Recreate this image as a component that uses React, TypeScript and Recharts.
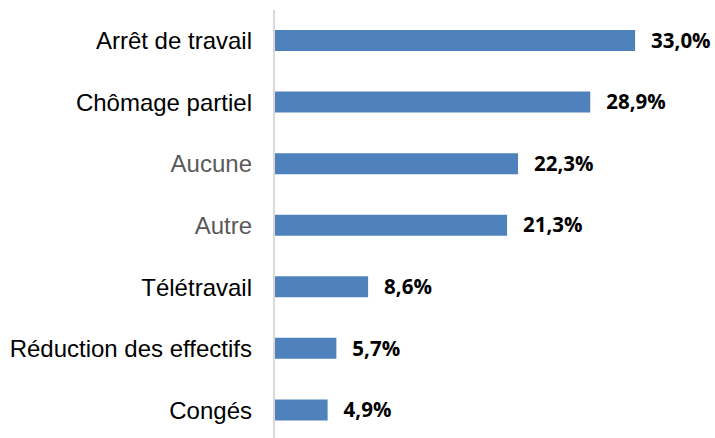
import { BarChart, Bar, XAxis, YAxis, LabelList } from 'recharts'

const categories = [
  'Arrêt de travail',
  'Chômage partiel',
  'Aucune',
  'Autre',
  'Télétravail',
  'Réduction des effectifs',
  'Congés',
]
const values = [33.0, 28.9, 22.3, 21.3, 8.6, 5.7, 4.9]
const mutedCategories = ['Aucune', 'Autre']

const data = categories.map((name, i) => ({ name, value: values[i] }))

const CategoryTick = (props: any) => {
  const { x, y, payload } = props
  const muted = mutedCategories.includes(payload.value)
  return (
    <text
      x={x}
      y={y}
      dy="0.355em"
      textAnchor="end"
      fontFamily="'Liberation Sans', Arial, sans-serif"
      fontSize={24}
      fill={muted ? '#595959' : '#000000'}
    >
      {payload.value}
    </text>
  )
}

export default function App() {
  return (
    <div style={{ position: 'absolute', left: 0, top: 0, background: '#fff' }}>
      <BarChart
        width={715}
        height={441}
        data={data}
        layout="vertical"
        margin={{ top: 10, right: 58, bottom: 0, left: 0 }}
        barCategoryGap={0}
      >
        <XAxis type="number" domain={[0, 35]} hide />
        <YAxis
          type="category"
          dataKey="name"
          width={274}
          tickLine={false}
          tickSize={0}
          tickMargin={22}
          axisLine={{ stroke: '#d9d9d9', strokeWidth: 2 }}
          tick={<CategoryTick />}
          interval={0}
        />
        <Bar dataKey="value" fill="#4f81bd" barSize={21} isAnimationActive={false}>
          <LabelList
            dataKey="value"
            position="right"
            offset={16}
            formatter={(v: any) => `${Number(v).toFixed(1).replace('.', ',')}%`}
            style={{
              fontFamily: "'Open Sans', sans-serif",
              fontWeight: 700,
              fontSize: 20.5,
              fill: '#000000',
            }}
          />
        </Bar>
      </BarChart>
    </div>
  )
}
